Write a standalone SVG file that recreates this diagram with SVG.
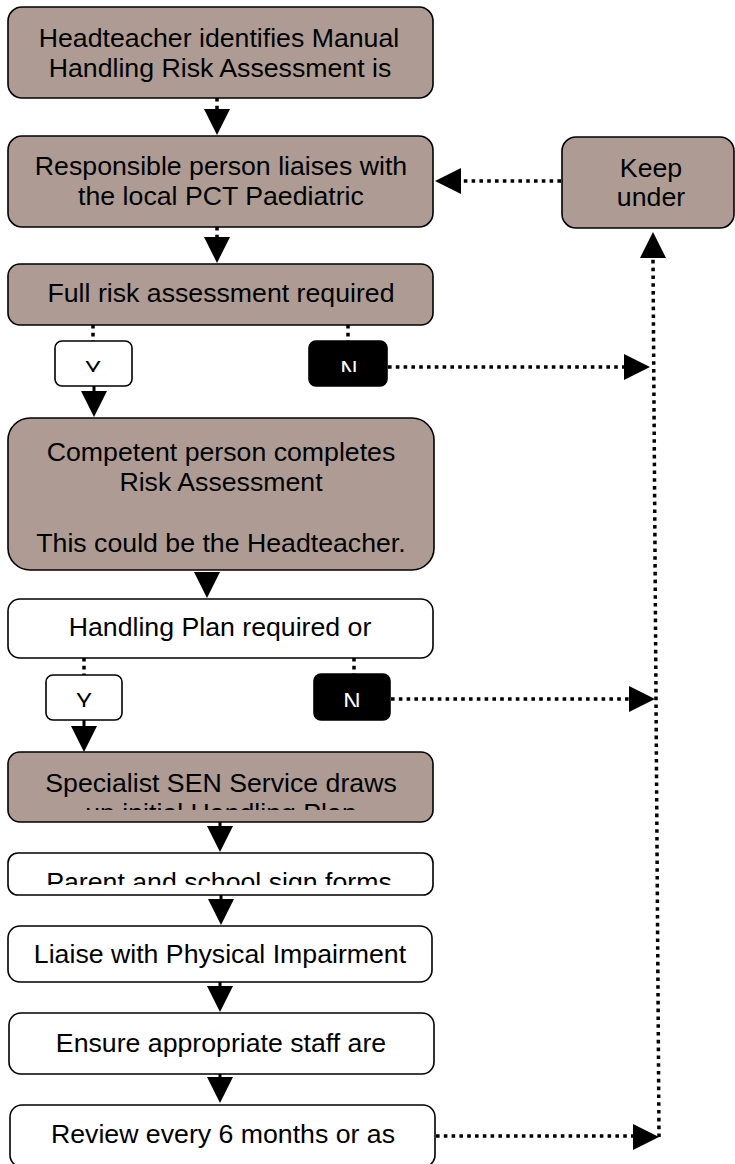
<svg xmlns="http://www.w3.org/2000/svg" xmlns:xlink="http://www.w3.org/1999/xlink" width="735" height="1164" viewBox="0 0 735 1164">
<style>
.box{stroke:#000;stroke-width:1.6}
.br{fill:#AE9C94}
.wh{fill:#fff}
.bk{fill:#000}
.t{font-family:"Liberation Sans",Arial,sans-serif;font-size:26.7px;fill:#000;text-anchor:middle}
.yn{font-family:"Liberation Sans",Arial,sans-serif;font-size:24px;text-anchor:middle}
.dot{fill:none;stroke:#000;stroke-width:3.5;stroke-dasharray:3.6 4.2}
.stub{fill:none;stroke:#000;stroke-width:3}
.ah{fill:#000}
</style>
<defs>
<path id="ahd" d="M-13,-26 L13,-26 L0,0 Z"/>
<clipPath id="c6"><rect x="0" y="752" width="440" height="58"/></clipPath>
<clipPath id="c7"><rect x="0" y="853" width="440" height="32"/></clipPath>
<clipPath id="cy1"><rect x="55" y="341" width="77" height="31"/></clipPath>
<clipPath id="cn1"><rect x="309" y="341" width="78" height="31"/></clipPath>
<clipPath id="cy2"><rect x="46" y="675" width="76" height="32"/></clipPath>
<clipPath id="cn2"><rect x="314" y="674" width="76" height="33"/></clipPath>
</defs>

<g id="connectors">
<path class="dot" d="M217,98 V109"/>
<use xlink:href="#ahd" class="ah" transform="translate(217,135)"/>
<path class="dot" d="M217,227 V238"/>
<use xlink:href="#ahd" class="ah" transform="translate(217,263)"/>
<path class="dot" d="M561,181 H461"/>
<use xlink:href="#ahd" class="ah" transform="translate(435,181) rotate(90)"/>
<path class="dot" d="M93,325 V341"/>
<path class="dot" d="M348,325 V341"/>
<path class="stub" d="M94,386 V392"/>
<use xlink:href="#ahd" class="ah" transform="translate(94,417)"/>
<path class="dot" d="M388,367 H624"/>
<use xlink:href="#ahd" class="ah" transform="translate(650,367) rotate(-90)"/>
<path class="dot" d="M659,1137 L653,258"/>
<use xlink:href="#ahd" class="ah" transform="translate(653,232) rotate(180)"/>
<use xlink:href="#ahd" class="ah" transform="translate(207,598)"/>
<path class="dot" d="M84,658 V675"/>
<path class="dot" d="M354,658 V674"/>
<path class="stub" d="M84,720 V726"/>
<use xlink:href="#ahd" class="ah" transform="translate(84,752)"/>
<path class="dot" d="M391,699 H629"/>
<use xlink:href="#ahd" class="ah" transform="translate(655,699) rotate(-90)"/>
<path class="stub" d="M220,822 V827"/>
<use xlink:href="#ahd" class="ah" transform="translate(220,852)"/>
<path class="stub" d="M221,895 V900"/>
<use xlink:href="#ahd" class="ah" transform="translate(221,925)"/>
<path class="stub" d="M220,982 V987"/>
<use xlink:href="#ahd" class="ah" transform="translate(220,1012)"/>
<path class="stub" d="M220,1074 V1078"/>
<use xlink:href="#ahd" class="ah" transform="translate(220,1103)"/>
<path class="dot" d="M436,1136 H633"/>
<use xlink:href="#ahd" class="ah" transform="translate(659,1137) rotate(-90)"/>
</g>

<g id="n1">
<rect class="box br" x="8" y="7" width="425" height="91" rx="14"/>
<text class="t" x="219" y="47">Headteacher identifies Manual</text>
<text class="t" x="220" y="77">Handling Risk Assessment is</text>
</g>

<g id="n2">
<rect class="box br" x="8" y="136" width="425" height="91" rx="14"/>
<text class="t" x="221" y="175">Responsible person liaises with</text>
<text class="t" x="221" y="205">the local PCT Paediatric</text>
</g>

<g id="keep">
<rect class="box br" x="562" y="137" width="172" height="91" rx="14"/>
<text class="t" x="651" y="177">Keep</text>
<text class="t" x="651" y="206">under</text>
</g>

<g id="n3">
<rect class="box br" x="8" y="264" width="425" height="61" rx="12"/>
<text class="t" x="221" y="302">Full risk assessment required</text>
</g>

<g id="y1">
<rect class="box wh" x="55" y="341" width="77" height="45" rx="7"/>
<text class="yn" x="93" y="378" fill="#000" clip-path="url(#cy1)">Y</text>
</g>

<g id="no1">
<rect class="box bk" x="309" y="341" width="78" height="45" rx="7"/>
<text class="yn" x="349" y="378" fill="#fff" clip-path="url(#cn1)">N</text>
</g>

<g id="n4">
<rect class="box br" x="8" y="418" width="426" height="152" rx="22"/>
<text class="t" x="221" y="461">Competent person completes</text>
<text class="t" x="221" y="491">Risk Assessment</text>
<text class="t" x="221" y="552">This could be the Headteacher.</text>
</g>

<g id="n5">
<rect class="box wh" x="8" y="599" width="425" height="59" rx="12"/>
<text class="t" x="220" y="636">Handling Plan required or</text>
</g>

<g id="y2">
<rect class="box wh" x="46" y="675" width="76" height="45" rx="7"/>
<text class="yn" x="84" y="710" fill="#000" clip-path="url(#cy2)">Y</text>
</g>

<g id="no2">
<rect class="box bk" x="314" y="674" width="76" height="46" rx="7"/>
<text class="yn" x="352" y="710" fill="#fff" clip-path="url(#cn2)">N</text>
</g>

<g id="n6">
<rect class="box br" x="8" y="752" width="425" height="70" rx="12"/>
<g clip-path="url(#c6)">
<text class="t" x="221" y="792">Specialist SEN Service draws</text>
<text class="t" x="221" y="822">up initial Handling Plan</text>
</g>
</g>

<g id="n7">
<rect class="box wh" x="8" y="853" width="425" height="42" rx="10"/>
<text class="t" x="219" y="891" clip-path="url(#c7)">Parent and school sign forms</text>
</g>

<g id="n8">
<rect class="box wh" x="8" y="926" width="424" height="56" rx="12"/>
<text class="t" x="220" y="963">Liaise with Physical Impairment</text>
</g>

<g id="n9">
<rect class="box wh" x="9" y="1013" width="425" height="61" rx="12"/>
<text class="t" x="221" y="1052">Ensure appropriate staff are</text>
</g>

<g id="n10">
<rect class="box wh" x="10" y="1105" width="425" height="62" rx="12"/>
<text class="t" x="223" y="1143">Review every 6 months or as</text>
</g>
</svg>
